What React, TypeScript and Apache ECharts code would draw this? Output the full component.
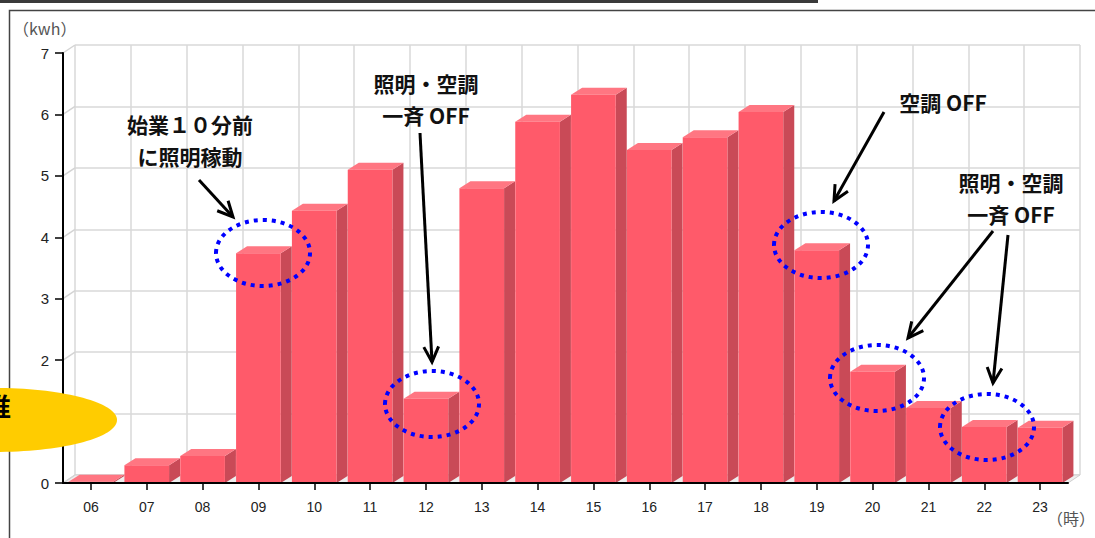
import React, { useEffect, useRef } from "react";
import * as echarts from "echarts";

const hours = ["06", "07", "08", "09", "10", "11", "12", "13", "14", "15", "16", "17", "18", "19", "20", "21", "22", "23"];
const usage = [0.02, 0.29, 0.44, 3.74, 4.43, 5.1, 1.37, 4.8, 5.88, 6.32, 5.42, 5.63, 6.04, 3.79, 1.81, 1.22, 0.91, 0.9];
const yTicks = [0, 1, 2, 3, 4, 5, 6, 7];
const yUnit = "（kwh）";
const xUnit = "（時）";

// annotations: [text lines, center x, first line y]
const notes: [string[], number, number][] = [
  [["始業１０分前", "に照明稼動"], 190, 124],
  [["照明・空調", "一斉 OFF"], 426, 83],
  [["空調 OFF"], 943, 102],
  [["照明・空調", "一斉 OFF"], 1011, 182],
];
const arrows: number[][] = [
  [199, 180, 233, 217],
  [420, 133, 432, 362],
  [884, 112, 834, 201],
  [993, 231, 908, 338],
  [1008, 235, 993, 383],
];
const rings: number[][] = [
  [263, 253],
  [432, 404],
  [821, 245],
  [877, 378],
  [987, 427],
];

const DX = 11, DY = -7; // bar depth
const WX = 12, WY = -8; // back wall offset

function arrowEls(a: number[]) {
  const [x1, y1, x2, y2] = a;
  const th = Math.atan2(y2 - y1, x2 - x1);
  const L = 17, ang = 0.45;
  const p1 = [x2 - L * Math.cos(th - ang), y2 - L * Math.sin(th - ang)];
  const p2 = [x2 - L * Math.cos(th + ang), y2 - L * Math.sin(th + ang)];
  return [
    { type: "line", z: 100, shape: { x1, y1, x2, y2 }, style: { stroke: "#000", lineWidth: 3 } },
    { type: "polyline", z: 100, shape: { points: [p1, [x2, y2], p2] }, style: { stroke: "#000", lineWidth: 3, fill: "none" } },
  ];
}

export default function App() {
  const ref = useRef<HTMLDivElement>(null);
  useEffect(() => {
    if (!ref.current) return;
    const chart = echarts.init(ref.current, null, { renderer: "svg" });
    const font = "Liberation Sans, Arial, sans-serif";
    const cjk = "Noto Sans CJK JP, sans-serif";
    const graphics: any[] = [
      { type: "rect", z: 100, shape: { x: 0, y: 0, width: 818, height: 3 }, style: { fill: "#3a3a3a" } },
      { type: "rect", z: 100, shape: { x: 9.5, y: 10.5, width: 1100, height: 540 }, style: { fill: "none", stroke: "#444", lineWidth: 1.5 } },
      { type: "ellipse", z: 101, shape: { cx: -5, cy: 420, rx: 122, ry: 32 }, style: { fill: "#FFCC00" } },
      { type: "text", z: 102, x: 11, y: 405, style: { text: "推", fill: "#000", fontSize: 26, fontWeight: "bold", fontFamily: cjk, align: "right", verticalAlign: "middle" } },
      { type: "text", z: 100, x: 13, y: 28, style: { text: yUnit, fill: "#555", fontSize: 16, fontFamily: cjk, align: "left", verticalAlign: "middle" } },
      { type: "text", z: 100, x: 1047, y: 518, style: { text: xUnit, fill: "#555", fontSize: 16, fontFamily: cjk, align: "left", verticalAlign: "middle" } },
    ];
    notes.forEach(([lines, cx, y0]) => {
      lines.forEach((t, i) => {
        graphics.push({
          type: "text", z: 100, x: cx, y: y0 + i * 32,
          style: { text: t, fill: "#111", fontSize: 21, fontWeight: "bold", fontFamily: cjk, align: "center", verticalAlign: "middle" },
        });
      });
    });
    arrows.forEach((a) => graphics.push(...arrowEls(a)));
    rings.forEach(([cx, cy]) =>
      graphics.push({ type: "ellipse", z: 100, shape: { cx, cy, rx: 47, ry: 33 }, style: { fill: "none", stroke: "#0000ff", lineWidth: 4, lineDash: [4, 5] } })
    );

    const option: any = {
      animation: false,
      backgroundColor: "#fff",
      grid: [
        { left: 63, right: 27, top: 53, bottom: 55 },
        { left: 63 + WX, right: 27 - WX, top: 53 + WY, bottom: 55 - WY },
      ],
      xAxis: [
        {
          type: "category", gridIndex: 0, data: hours, z: 10,
          axisLine: { show: true, lineStyle: { color: "#000", width: 2 } },
          axisTick: { show: true, alignWithLabel: true, length: 7, lineStyle: { color: "#000", width: 1.5 } },
          axisLabel: { color: "#222", fontSize: 14, fontFamily: font, margin: 17 },
          splitLine: { show: false },
        },
        {
          type: "category", gridIndex: 1, data: hours,
          axisLine: { show: false }, axisTick: { show: false }, axisLabel: { show: false },
          splitLine: { show: true, interval: 0, lineStyle: { color: "#d8d8d8", width: 1.5 } },
        },
      ],
      yAxis: [
        {
          type: "value", gridIndex: 0, min: 0, max: 7, interval: 1, z: 10,
          axisLine: { show: true, lineStyle: { color: "#000", width: 2 } },
          axisTick: { show: true, length: 8, lineStyle: { color: "#000", width: 1.5 } },
          axisLabel: { color: "#222", fontSize: 15, fontFamily: font, margin: 14 },
          splitLine: { show: false },
        },
        {
          type: "value", gridIndex: 1, min: 0, max: 7, interval: 1,
          axisLine: { show: false }, axisTick: { show: false }, axisLabel: { show: false },
          splitLine: { show: true, lineStyle: { color: "#d8d8d8", width: 1.5 } },
        },
      ],
      series: [
        {
          type: "custom", xAxisIndex: 0, yAxisIndex: 0, z: 1, silent: true,
          data: [[0, 0]],
          renderItem: (params: any, api: any) => {
            const half = api.size([1, 0])[0] / 2;
            const b0 = api.coord([0, 0]);
            const b1 = api.coord([hours.length - 1, 0]);
            const left = b0[0] - half, right = b1[0] + half, y = b0[1];
            const children: any[] = [
              { type: "polygon", shape: { points: [[left, y], [right, y], [right + WX, y + WY], [left + WX, y + WY]] }, style: { fill: "#eeeeee", stroke: "#cfcfcf", lineWidth: 1 } },
            ];
            yTicks.forEach((v) => {
              const p = api.coord([0, v]);
              children.push({ type: "line", shape: { x1: left, y1: p[1], x2: left + WX, y2: p[1] + WY }, style: { stroke: "#d4d4d4", lineWidth: 1.5 } });
            });
            return { type: "group", children };
          },
        },
        {
          type: "custom", xAxisIndex: 0, yAxisIndex: 0, z: 2, silent: true,
          encode: { x: 0, y: 1 },
          data: hours.map((h, i) => [i, usage[i]]),
          renderItem: (params: any, api: any) => {
            const idx = api.value(0), v = api.value(1);
            const top = api.coord([idx, v]);
            const base = api.coord([idx, 0]);
            const bw = api.size([1, 0])[0] * 0.8;
            const xl = top[0] - bw / 2, xr = top[0] + bw / 2;
            const yt = top[1], yb = base[1];
            return {
              type: "group",
              children: [
                { type: "polygon", shape: { points: [[xr, yt], [xr + DX, yt + DY], [xr + DX, yb + DY], [xr, yb]] }, style: { fill: "#C94A57" } },
                { type: "polygon", shape: { points: [[xl, yt], [xl + DX, yt + DY], [xr + DX, yt + DY], [xr, yt]] }, style: { fill: "#FF7682" } },
                { type: "polygon", shape: { points: [[xl, yt], [xr, yt], [xr, yb], [xl, yb]] }, style: { fill: "#FF5A6A" } },
              ],
            };
          },
        },
      ],
      graphic: { elements: graphics },
    };
    chart.setOption(option);
    return () => chart.dispose();
  }, []);
  return <div ref={ref} style={{ position: "fixed", left: 0, top: 0, width: 1095, height: 538, background: "#fff" }} />;
}
